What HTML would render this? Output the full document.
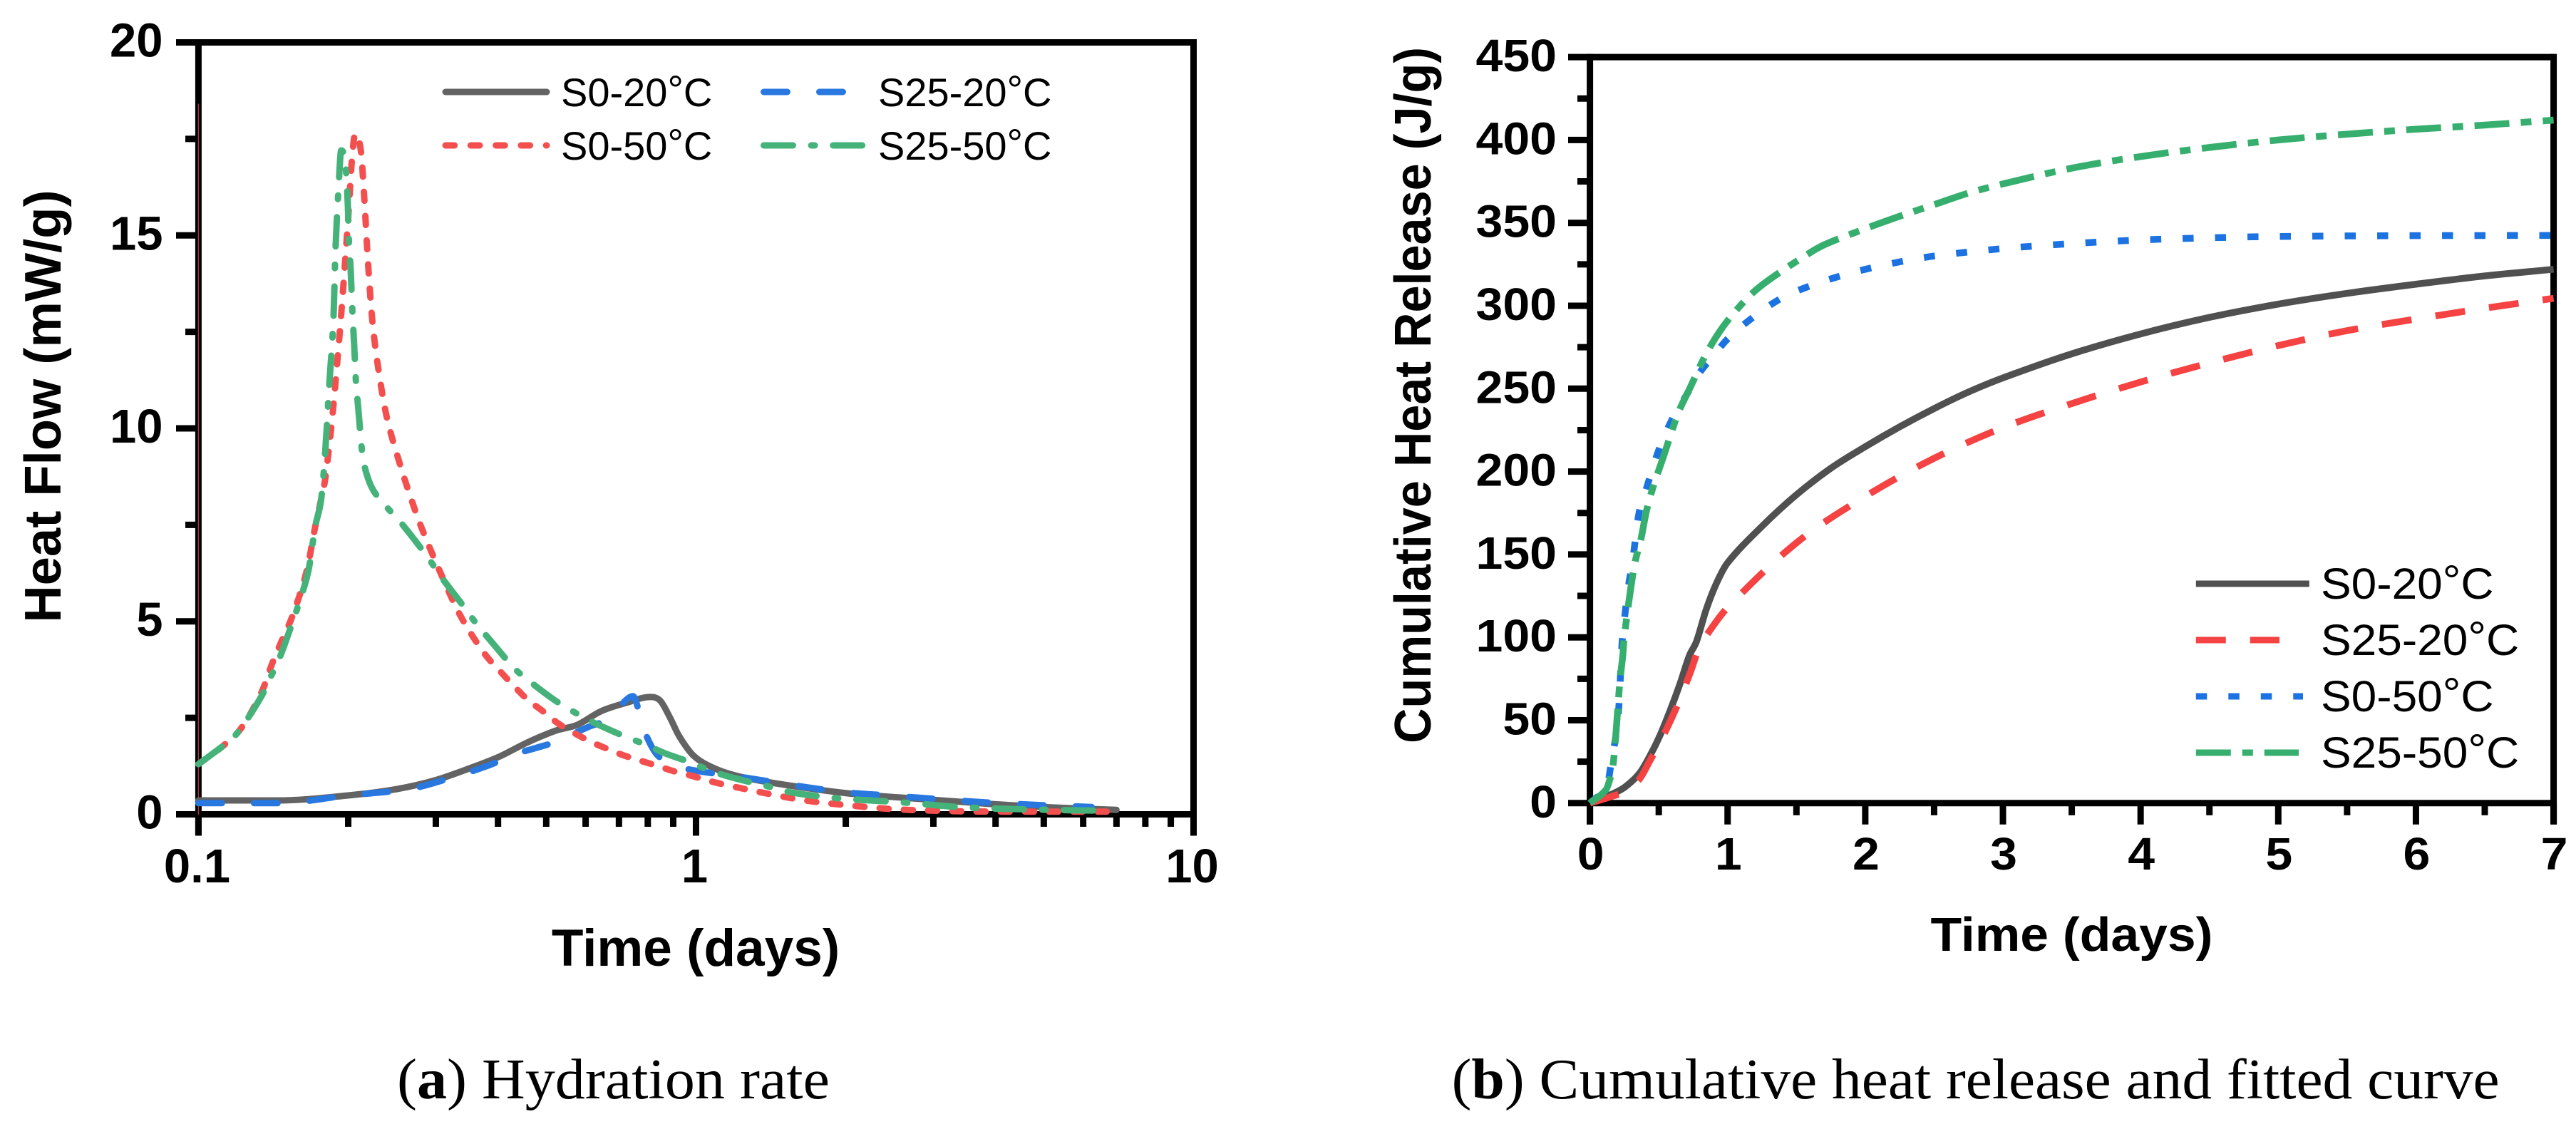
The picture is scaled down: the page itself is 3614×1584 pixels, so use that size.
<!DOCTYPE html>
<html lang="en">
<head>
<meta charset="utf-8">
<title>Hydration rate and cumulative heat release</title>
<style>
html,body{margin:0;padding:0;background:#fff;}
svg{display:block;}
text{fill:#000;}
.tick{font-family:"Liberation Sans",Arial,sans-serif;font-weight:700;}
.axt{font-family:"Liberation Sans",Arial,sans-serif;font-weight:700;}
.leg{font-family:"Liberation Sans",Arial,sans-serif;}
.cap{font-family:"Liberation Serif","Times New Roman",serif;font-size:80px;}
</style>
</head>
<body>
<svg id="fig" xmlns="http://www.w3.org/2000/svg" width="3614" height="1584" viewBox="0 0 3614 1584">
  <rect x="0" y="0" width="3614" height="1584" fill="#fff"/>

  <g id="panelA">
    <g id="axesA"></g>
    <g id="marksA" fill="none" stroke-width="9" stroke-linecap="round" stroke-linejoin="round"></g>
    <text class="axt" font-size="72.4" text-anchor="middle" transform="translate(85,570) rotate(-90)">Heat Flow (mW/g)</text>
    <text class="axt" font-size="73" text-anchor="middle" x="976" y="1355">Time (days)</text>
    <g fill="none" stroke-width="9" stroke-linecap="round">
      <line x1="625" y1="129" x2="767" y2="129" stroke="#636363"/>
      <text class="leg" x="787" y="149" font-size="56" stroke="none">S0-20<tspan dy="-4">°</tspan><tspan dy="4">C</tspan></text>
      <line x1="625" y1="204" x2="767" y2="204" stroke="#F44F4F" stroke-dasharray="12.7 22.6"/>
      <text class="leg" x="787" y="224" font-size="56" stroke="none">S0-50<tspan dy="-4">°</tspan><tspan dy="4">C</tspan></text>
      <line x1="1071.5" y1="129" x2="1183" y2="129" stroke="#2878E0" stroke-dasharray="33 45"/>
      <text class="leg" x="1232" y="149" font-size="56" stroke="none">S25-20<tspan dy="-4">°</tspan><tspan dy="4">C</tspan></text>
      <line x1="1071.5" y1="204" x2="1210" y2="204" stroke="#45B27A" stroke-dasharray="41 25.6 5 25.6"/>
      <text class="leg" x="1232" y="224" font-size="56" stroke="none">S25-50<tspan dy="-4">°</tspan><tspan dy="4">C</tspan></text>
    </g>
    <text class="cap" x="557" y="1541" textLength="607" lengthAdjust="spacingAndGlyphs">(<tspan font-weight="700">a</tspan>) Hydration rate</text>
  </g>

  <g id="panelB">
    <g id="axesB"></g>
    <g id="marksB" fill="none" stroke-width="9.5" stroke-linecap="butt" stroke-linejoin="round"></g>
    <text class="axt" font-size="72" text-anchor="middle" transform="translate(2007,554.4) rotate(-90) scale(.95,1)">Cumulative Heat Release (J/g)</text>
    <text class="axt" font-size="71.5" text-anchor="middle" transform="translate(2906.5,1334) scale(1,.94)">Time (days)</text>
    <g fill="none" stroke-width="9">
      <line x1="3080.8" y1="819" x2="3239.8" y2="819" stroke="#505050"/>
      <text class="leg" font-size="64" stroke="none" transform="translate(3256,840) scale(1,.95)">S0-20<tspan dy="-4">°</tspan><tspan dy="4">C</tspan></text>
      <line x1="3080.8" y1="898" x2="3198" y2="898" stroke="#F54242" stroke-dasharray="42 34"/>
      <text class="leg" font-size="64" stroke="none" transform="translate(3256,919) scale(1,.95)">S25-20<tspan dy="-4">°</tspan><tspan dy="4">C</tspan></text>
      <line x1="3080.8" y1="977" x2="3231" y2="977" stroke="#1B72E0" stroke-dasharray="15.5 30"/>
      <text class="leg" font-size="64" stroke="none" transform="translate(3256,998) scale(1,.95)">S0-50<tspan dy="-4">°</tspan><tspan dy="4">C</tspan></text>
      <line x1="3080.8" y1="1056" x2="3225" y2="1056" stroke="#36AF6E" stroke-dasharray="49 16 15 16"/>
      <text class="leg" font-size="64" stroke="none" transform="translate(3256,1077) scale(1,.95)">S25-50<tspan dy="-4">°</tspan><tspan dy="4">C</tspan></text>
    </g>
    <text class="cap" x="2036.6" y="1541" textLength="1470" lengthAdjust="spacingAndGlyphs">(<tspan font-weight="700">b</tspan>) Cumulative heat release and fitted curve</text>
  </g>
</svg>

<script>
/* ---------- Panel A data: Heat Flow (mW/g) vs Time (days) ---------- */
var aYMajorTicks = [0, 5, 10, 15, 20];
var aYMinorTicks = [2.5, 7.5, 12.5, 17.5];
var aXMajorTicks = [0.1, 1, 10];
var aXMinorTicks = [0.2, 0.3, 0.4, 0.5, 0.6, 0.7, 0.8, 0.9, 2, 3, 4, 5, 6, 7, 8, 9];
var aYTickLabels = ["0", "5", "10", "15", "20"];
var aXTickLabels = ["0.1", "1", "10"];

var aS0_20_time = [0.1, 0.1446, 0.2, 0.2506, 0.2996, 0.352, 0.4016, 0.458, 0.523, 0.5777, 0.644, 0.72, 0.81, 0.848, 0.887, 0.9256, 0.9887, 1.081, 1.205, 1.45, 2.0, 2.71, 3.89, 5.16, 7];
var aS0_20_flow = [0.36, 0.36, 0.49, 0.655, 0.885, 1.2, 1.49, 1.86, 2.17, 2.32, 2.67, 2.88, 3.04, 2.94, 2.5, 2.02, 1.52, 1.21, 1.0, 0.8, 0.55, 0.415, 0.27, 0.18, 0.115];

var aS25_20_time = [0.1, 0.1446, 0.2, 0.265, 0.3145, 0.38, 0.4339, 0.4739, 0.5176, 0.5588, 0.6067, 0.652, 0.697, 0.7475, 0.7738, 0.798, 0.8385, 0.906, 0.979, 1.27, 1.61, 2.0, 2.42, 3.1, 3.81, 4.89, 6.24];
var aS25_20_flow = [0.29, 0.29, 0.49, 0.655, 0.905, 1.25, 1.56, 1.71, 1.86, 2.05, 2.26, 2.42, 2.76, 3.06, 2.51, 1.985, 1.52, 1.28, 1.15, 0.94, 0.73, 0.57, 0.49, 0.39, 0.31, 0.24, 0.19];

var aS0_50_time = [0.1, 0.112, 0.122, 0.134, 0.1406, 0.1474, 0.1546, 0.165, 0.1716, 0.1765, 0.18, 0.185, 0.1886, 0.194, 0.1996, 0.2035, 0.2066, 0.212, 0.2154, 0.2193, 0.2237, 0.23, 0.239, 0.253, 0.268, 0.2805, 0.3055, 0.336, 0.376, 0.4018, 0.4293, 0.458, 0.4925, 0.529, 0.574, 0.6166, 0.6626, 0.711, 0.7687, 0.8385, 0.906, 0.9856, 1.074, 1.178, 1.4, 1.657, 2.0, 2.52, 3.13, 3.96, 5.16, 7];
var aS0_50_flow = [1.3, 1.77, 2.24, 3.17, 3.9, 4.53, 5.15, 6.3, 7.44, 8.17, 8.73, 10.05, 11.2, 13.1, 15.3, 16.97, 17.63, 17.2, 15.98, 14.25, 12.77, 11.53, 10.3, 9.15, 8.15, 7.44, 6.3, 5.15, 4.16, 3.74, 3.34, 2.98, 2.67, 2.35, 2.08, 1.87, 1.7, 1.54, 1.4, 1.25, 1.11, 0.99, 0.85, 0.73, 0.53, 0.36, 0.24, 0.13, 0.09, 0.07, 0.07, 0.07];
var aS0_50_spikeTime = [0.1, 0.1];
var aS0_50_spikeFlow = [0, 18.4];

var aS25_50_time = [0.1, 0.112, 0.1174, 0.1242, 0.134, 0.1393, 0.1446, 0.1517, 0.1606, 0.1666, 0.1716, 0.1765, 0.1798, 0.1832, 0.1868, 0.1886, 0.1914, 0.1936, 0.1973, 0.1996, 0.2007, 0.2023, 0.2042, 0.2054, 0.2073, 0.2093, 0.2133, 0.2174, 0.2245, 0.239, 0.2555, 0.289, 0.3055, 0.3425, 0.3594, 0.4018, 0.4339, 0.4776, 0.5266, 0.5777, 0.6067, 0.6464, 0.7129, 0.787, 0.8666, 0.968, 1.074, 1.194, 1.44, 1.55, 1.91, 2.59, 3.47, 4.74, 6.48];
var aS25_50_flow = [1.3, 1.77, 1.98, 2.39, 3.07, 3.53, 3.96, 4.68, 5.62, 6.35, 7.44, 8.17, 9.39, 11.13, 12.85, 14.67, 16.3, 17.2, 16.9, 15.82, 14.83, 14.1, 12.85, 12.27, 11.2, 10.59, 9.39, 8.85, 8.4, 7.96, 7.55, 6.66, 6.2, 5.36, 4.99, 4.24, 3.75, 3.31, 2.91, 2.6, 2.45, 2.28, 2.04, 1.82, 1.58, 1.36, 1.12, 0.94, 0.68, 0.57, 0.42, 0.31, 0.18, 0.125, 0.095];

/* ---------- Panel B data: Cumulative Heat Release (J/g) vs Time (days) ---------- */
var bYMajorTicks = [0, 50, 100, 150, 200, 250, 300, 350, 400, 450];
var bYMinorTicks = [25, 75, 125, 175, 225, 275, 325, 375, 425];
var bXMajorTicks = [0, 1, 2, 3, 4, 5, 6, 7];
var bXMinorTicks = [0.5, 1.5, 2.5, 3.5, 4.5, 5.5, 6.5];
var bYTickLabels = ["0", "50", "100", "150", "200", "250", "300", "350", "400", "450"];
var bXTickLabels = ["0", "1", "2", "3", "4", "5", "6", "7"];

var bS0_20_time = [0, 0.17, 0.256, 0.36, 0.437, 0.506, 0.583, 0.653, 0.722, 0.774, 0.845, 0.919, 1, 1.25, 1.5, 1.75, 2, 2.25, 2.5, 2.75, 3, 3.5, 4, 4.5, 5, 5.5, 6, 6.5, 7];
var bS0_20_heat = [0, 5.8, 9.8, 18, 28.7, 40.3, 56, 71.7, 88.9, 97.5, 116.9, 132.6, 145, 167, 186, 202, 215, 227, 238, 248, 256.5, 271, 283, 293, 301, 307.5, 313, 318, 322];

var bS25_20_time = [0, 0.168, 0.256, 0.36, 0.437, 0.53, 0.634, 0.73, 0.79, 0.845, 1, 1.5, 2, 2.5, 3, 3.5, 4, 4.5, 5, 5.5, 6, 6.5, 7];
var bS25_20_heat = [0, 4.3, 7.2, 14.5, 25.8, 40.2, 58.8, 79, 93.2, 101, 118, 157, 185, 208, 226.5, 241, 254, 265.5, 276, 285, 292, 298.5, 304.5];

var bS0_50_time = [0, 0.126, 0.152, 0.195, 0.213, 0.225, 0.235, 0.28, 0.308, 0.354, 0.4, 0.5, 0.6, 0.7, 0.8, 0.9, 1, 1.2, 1.4, 1.6, 1.8, 2, 2.25, 2.5, 3, 3.5, 4, 4.5, 5, 6, 7];
var bS0_50_heat = [0, 10.8, 23, 44.6, 61.8, 83, 98.5, 131, 144.6, 173.9, 187, 213, 232, 246, 260, 270, 280, 294, 305, 312, 317.5, 322, 326.5, 330, 334.5, 337.5, 339.7, 341, 341.8, 342.3, 342.4];

var bS25_50_time = [0, 0.116, 0.147, 0.168, 0.187, 0.213, 0.225, 0.24, 0.25, 0.32, 0.37, 0.41, 0.46, 0.53, 0.64, 0.73, 0.82, 0.9, 1, 1.16, 1.29, 1.56, 1.7, 2, 2.25, 2.5, 2.75, 3, 3.5, 4, 4.5, 5, 5.5, 6, 6.5, 7];
var bS25_50_heat = [0, 8, 15, 23, 40, 68.8, 79, 90.3, 101, 142, 159, 176, 191, 208, 235, 251, 267, 279, 291, 306, 315, 330, 336.7, 346.5, 354, 361, 368, 373.5, 383, 390, 395.5, 400, 403.5, 406.5, 409, 412];

/* ---------- Axis functions ---------- */
function aX(t) { return 278.4 + 698.05 * Math.log10(t / 0.1); }
function aY(v) { return 1142.5 - 54.15 * v; }
function bX(t) { return 2230.6 + 193.14 * t; }
function bY(v) { return 1126.8 - 2.326 * v; }

var NS = 'http://www.w3.org/2000/svg';

function rule(parent, name, x1, y1, x2, y2, width) {
  var el = document.createElementNS(NS, 'line');
  
  
  el.setAttribute('x1', x1);
  el.setAttribute('y1', y1);
  el.setAttribute('x2', x2);
  el.setAttribute('y2', y2);
  el.setAttribute('stroke', '#000');
  el.setAttribute('stroke-width', width);
  parent.appendChild(el);
}

function label(parent, name, str, x, y, anchor, size, sy) {
  var el = document.createElementNS(NS, 'text');
  
  
  el.setAttribute('class', 'tick');
  el.setAttribute('font-size', size);
  el.setAttribute('text-anchor', anchor);
  el.setAttribute('transform', 'translate(' + x + ',' + y + ') scale(1,' + sy + ')');
  el.textContent = str;
  parent.appendChild(el);
}

/* cubic through pixel points using central-difference slopes, limited so sharp peaks do not overshoot */
function smoothPath(pts) {
  var n = pts.length;
  var d = 'M' + pts[0][0].toFixed(2) + ' ' + pts[0][1].toFixed(2);
  if (n < 3) {
    for (var k = 1; k < n; k++) d += 'L' + pts[k][0].toFixed(2) + ' ' + pts[k][1].toFixed(2);
    return d;
  }
  var h = [], s = [], m = [];
  for (var i = 0; i < n - 1; i++) {
    h[i] = pts[i + 1][0] - pts[i][0];
    s[i] = (pts[i + 1][1] - pts[i][1]) / h[i];
  }
  m[0] = s[0];
  m[n - 1] = s[n - 2];
  for (var j = 1; j < n - 1; j++) {
    if (s[j - 1] * s[j] <= 0) {
      m[j] = 0;
    } else {
      var c = (pts[j + 1][1] - pts[j - 1][1]) / (pts[j + 1][0] - pts[j - 1][0]);
      var lim = 3 * Math.min(Math.abs(s[j - 1]), Math.abs(s[j]));
      m[j] = Math.abs(c) > lim ? (c > 0 ? lim : -lim) : c;
    }
  }
  for (var q = 0; q < n - 1; q++) {
    var c1x = pts[q][0] + h[q] / 3, c1y = pts[q][1] + m[q] * h[q] / 3;
    var c2x = pts[q + 1][0] - h[q] / 3, c2y = pts[q + 1][1] - m[q + 1] * h[q] / 3;
    d += 'C' + c1x.toFixed(2) + ' ' + c1y.toFixed(2) + ' ' + c2x.toFixed(2) + ' ' + c2y.toFixed(2) + ' ' + pts[q + 1][0].toFixed(2) + ' ' + pts[q + 1][1].toFixed(2);
  }
  return d;
}

function curve(parent, name, xs, ys, fx, fy, color, dash, width) {
  var el = document.createElementNS(NS, 'path');
  
  
  var pts = xs.map(function (t, i) { return [fx(t), fy(ys[i])]; });
  el.setAttribute('d', smoothPath(pts));
  el.setAttribute('stroke', color);
  if (dash) el.setAttribute('stroke-dasharray', dash);
  if (width) el.setAttribute('stroke-width', width);
  parent.appendChild(el);
}

/* ---------- Panel A axes ---------- */
var gA = document.getElementById('axesA');
var aL = aX(0.1), aR = aX(10), aT = aY(20), aB = aY(0);
rule(gA, 'panel-a-left-axis', aL, aT - 4.5, aL, aB + 30, 9);
rule(gA, 'panel-a-right-axis', aR, aT - 4.5, aR, aB + 30, 9);
rule(gA, 'panel-a-top-axis', aL, aT, aR, aT, 9);
rule(gA, 'panel-a-bottom-axis', aL, aB, aR, aB, 9);
aYMajorTicks.forEach(function (v, i) {
  rule(gA, 'panel-a-y-major-tick', 247, aY(v), aL, aY(v), 9);
  label(gA, 'panel-a-y-tick-label', aYTickLabels[i], 228.5, aY(v) + 20, 'end', 67, 1);
});
aYMinorTicks.forEach(function (v) {
  rule(gA, 'panel-a-y-minor-tick', 260, aY(v), aL, aY(v), 9);
});
aXMajorTicks.forEach(function (t, i) {
  rule(gA, 'panel-a-x-major-tick', aX(t), aB, aX(t), aB + 30, 9);
  label(gA, 'panel-a-x-tick-label', aXTickLabels[i], aX(t) - 2, 1238, 'middle', 67, 1);
});
aXMinorTicks.forEach(function (t) {
  rule(gA, 'panel-a-x-minor-tick', aX(t), aB, aX(t), 1160, 9);
});

/* ---------- Panel A curves ---------- */
var mA = document.getElementById('marksA');
curve(mA, 'curve-s0-50-spike', aS0_50_spikeTime, aS0_50_spikeFlow, aX, aY, '#A23A3A', null, 1.5);
curve(mA, 'curve-s0-20', aS0_20_time, aS0_20_flow, aX, aY, '#636363');
curve(mA, 'curve-s25-20', aS25_20_time, aS25_20_flow, aX, aY, '#2878E0', '33 45');
curve(mA, 'curve-s0-50', aS0_50_time, aS0_50_flow, aX, aY, '#F44F4F', '12.7 21.3');
curve(mA, 'curve-s25-50', aS25_50_time, aS25_50_flow, aX, aY, '#45B27A', '41 25.6 5 25.6');

/* ---------- Panel B axes ---------- */
var gB = document.getElementById('axesB');
var bL = bX(0), bR = bX(7), bT = bY(450), bB = bY(0);
rule(gB, 'panel-b-left-axis', bL, bT - 4.5, bL, bB + 30, 9);
rule(gB, 'panel-b-right-axis', bR, bT - 4.5, bR, bB + 30, 9);
rule(gB, 'panel-b-top-axis', bL, bT, bR, bT, 9);
rule(gB, 'panel-b-bottom-axis', bL, bB, bR, bB, 9);
bYMajorTicks.forEach(function (v, i) {
  rule(gB, 'panel-b-y-major-tick', 2200, bY(v), bL, bY(v), 9);
  label(gB, 'panel-b-y-tick-label', bYTickLabels[i], 2184, bY(v) + 20, 'end', 68, 0.94);
});
bYMinorTicks.forEach(function (v) {
  rule(gB, 'panel-b-y-minor-tick', 2213, bY(v), bL, bY(v), 9);
});
bXMajorTicks.forEach(function (t, i) {
  rule(gB, 'panel-b-x-major-tick', bX(t), bB, bX(t), bB + 30, 9);
  label(gB, 'panel-b-x-tick-label', bXTickLabels[i], bX(t) + 1, 1220, 'middle', 68, 0.94);
});
bXMinorTicks.forEach(function (t) {
  rule(gB, 'panel-b-x-minor-tick', bX(t), bB, bX(t), bB + 17, 9);
});

/* ---------- Panel B curves ---------- */
var mB = document.getElementById('marksB');
curve(mB, 'curve-s0-20', bS0_20_time, bS0_20_heat, bX, bY, '#505050');
curve(mB, 'curve-s25-20', bS25_20_time, bS25_20_heat, bX, bY, '#F54242', '42 34');
curve(mB, 'curve-s0-50', bS0_50_time, bS0_50_heat, bX, bY, '#1B72E0', '15.5 30');
curve(mB, 'curve-s25-50', bS25_50_time, bS25_50_heat, bX, bY, '#36AF6E', '49 16 15 16');
</script>
</body>
</html>
